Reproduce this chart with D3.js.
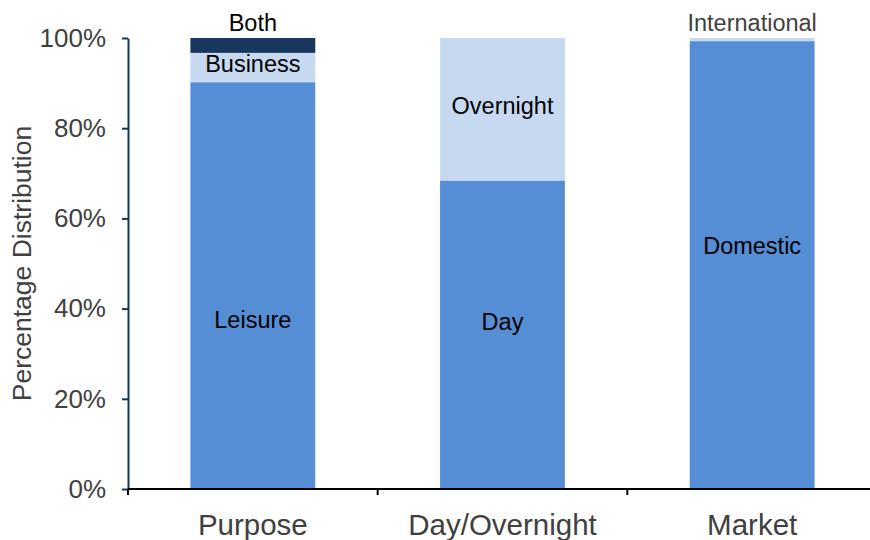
<!DOCTYPE html>
<html>
<head>
<meta charset="utf-8">
<script src="https://cdn.jsdelivr.net/npm/d3@7"></script>
<style>
  body { margin: 0; background: #fff; }
  text { font-family: "Liberation Sans", Arial, sans-serif; }
</style>
</head>
<body>
<svg id="chart" width="870" height="540"></svg>
<script>
// categories and stacked segments (percent)
const categories = ["Purpose", "Day/Overnight", "Market"];
const segLabels = [
  ["Leisure", "Business", "Both"],
  ["Day", "Overnight"],
  ["Domestic", "International"]
];
const segValues = [
  [90.2, 6.5, 3.3],
  [68.4, 31.6],
  [99.3, 0.7]
];
// where each label sits, in percent on the y axis
const labelAt = [
  [37.5, 94.2, 103.3],
  [37, 85],
  [54, 103.3]
];
const yTicks = [0, 20, 40, 60, 80, 100];

const segColors = {
  Leisure: "#558ED5", Business: "#C6D9F1", Both: "#17375E",
  Day: "#558ED5", Overnight: "#C6D9F1",
  Domestic: "#558ED5", International: "#C6D9F1"
};

const margin = { top: 38, right: -7, bottom: 51, left: 128 };
const width = 870, height = 540;
const chartWidth = width - margin.left - margin.right;
const chartHeight = height - margin.top - margin.bottom;

const svg = d3.select("#chart");
const g = svg.append("g").attr("transform", `translate(${margin.left},${margin.top})`);

const xScale = d3.scaleBand().domain(categories).range([0, chartWidth]).paddingInner(0.5).paddingOuter(0.25);
const yScale = d3.scaleLinear().domain([0, 100]).range([chartHeight, 0]);

// bars
categories.forEach((cat, i) => {
  let base = 0;
  segValues[i].forEach((v, j) => {
    const name = segLabels[i][j];
    g.append("rect")
      .attr("x", xScale(cat))
      .attr("width", xScale.bandwidth())
      .attr("y", yScale(base + v))
      .attr("height", yScale(base) - yScale(base + v))
      .attr("fill", segColors[name]);
    base += v;
  });
  segLabels[i].forEach((name, j) => {
    g.append("text")
      .attr("x", xScale(cat) + xScale.bandwidth() / 2)
      .attr("y", yScale(labelAt[i][j]))
      .attr("dy", "0.35em")
      .attr("text-anchor", "middle")
      .style("font-size", "23.5px")
      .style("fill", name === "International" ? "#404040" : "#000")
      .text(name);
  });
});

// y axis
const yAxis = d3.axisLeft(yScale).tickValues(yTicks).tickSize(6).tickSizeOuter(0)
  .tickFormat(d => d + "%");
const yg = g.append("g").call(yAxis);
yg.select(".domain").attr("stroke", "#17375E").attr("stroke-width", 2);
yg.selectAll(".tick line").attr("stroke", "#17375E").attr("stroke-width", 2);
yg.selectAll(".tick text").attr("x", -22).style("font-size", "26px").style("fill", "#404040")
  .style("font-family", "'Liberation Sans', Arial, sans-serif");

// x axis with ticks between categories
const xg = g.append("g").attr("transform", `translate(0,${chartHeight})`);
xg.append("line").attr("x1", 0).attr("x2", chartWidth).attr("stroke", "#000").attr("stroke-width", 2);
const step = xScale.step();
d3.range(categories.length + 1).forEach(k => {
  xg.append("line")
    .attr("x1", k * step).attr("x2", k * step)
    .attr("y1", 0).attr("y2", 6)
    .attr("stroke", "#000").attr("stroke-width", 2);
});
categories.forEach(cat => {
  xg.append("text")
    .attr("x", xScale(cat) + xScale.bandwidth() / 2)
    .attr("y", 36)
    .attr("dy", "0.35em")
    .attr("text-anchor", "middle")
    .style("font-size", "29.5px")
    .style("fill", "#404040")
    .text(cat);
});

// y axis title
svg.append("text")
  .attr("transform", `translate(22,${margin.top + chartHeight / 2}) rotate(-90)`)
  .attr("text-anchor", "middle")
  .attr("dy", "0.35em")
  .style("font-size", "26.5px")
  .style("fill", "#404040")
  .text("Percentage Distribution");
</script>
</body>
</html>
